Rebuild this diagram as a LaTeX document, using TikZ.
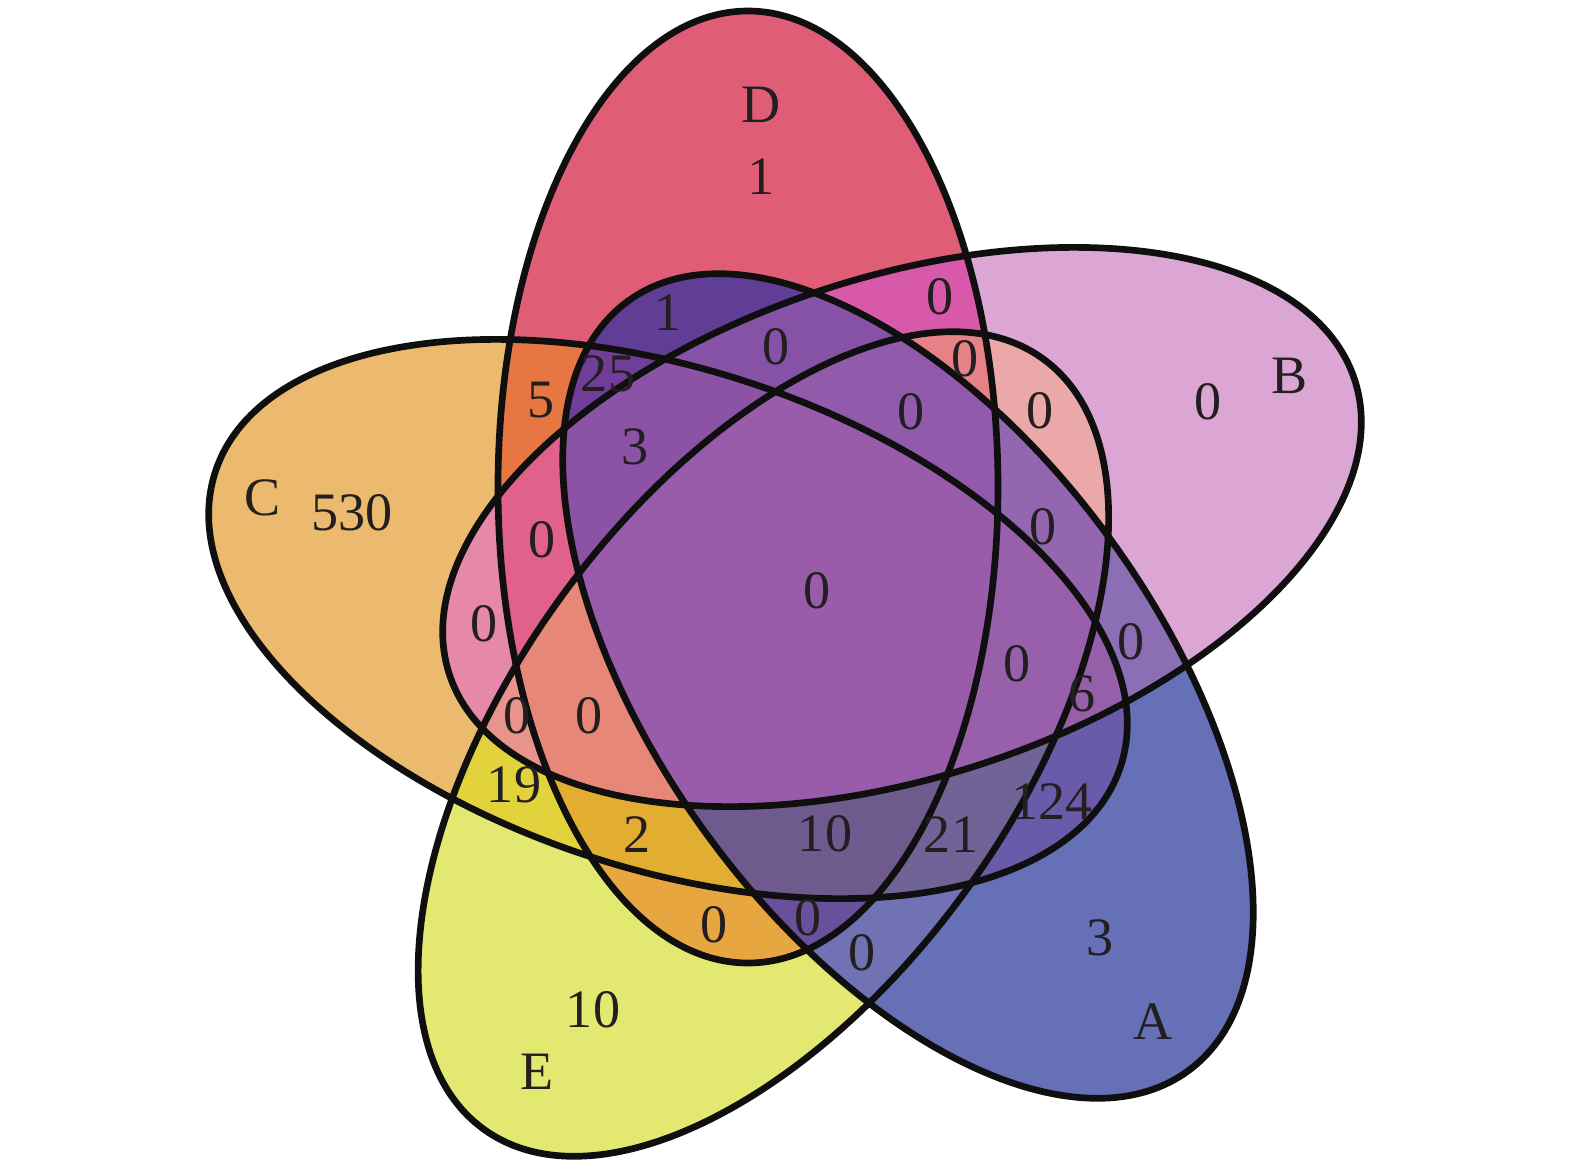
\documentclass[tikz,border=0pt]{standalone}
\usepackage{fontspec}
\setmainfont{Liberation Serif}
\usepackage{xcolor}

% single sets
\definecolor{cA}{RGB}{102,112,182}
\definecolor{cB}{RGB}{219,166,212}
\definecolor{cC}{RGB}{236,186,110}
\definecolor{cD}{RGB}{224,94,117}
\definecolor{cE}{RGB}{226,232,112}
% two sets
\definecolor{cAB}{RGB}{140,110,180}
\definecolor{cAC}{RGB}{106,90,170}
\definecolor{cAD}{RGB}{96,62,150}
\definecolor{cAE}{RGB}{112,114,180}
\definecolor{cBC}{RGB}{230,136,168}
\definecolor{cBD}{RGB}{216,88,170}
\definecolor{cBE}{RGB}{234,168,168}
\definecolor{cCD}{RGB}{230,118,66}
\definecolor{cCE}{RGB}{226,210,60}
\definecolor{cDE}{RGB}{232,166,64}
% three sets
\definecolor{cABC}{RGB}{150,95,170}
\definecolor{cABD}{RGB}{133,82,165}
\definecolor{cABE}{RGB}{148,102,175}
\definecolor{cACD}{RGB}{112,62,152}
\definecolor{cACE}{RGB}{112,100,150}
\definecolor{cADE}{RGB}{105,80,155}
\definecolor{cBCD}{RGB}{224,98,138}
\definecolor{cBCE}{RGB}{232,148,140}
\definecolor{cBDE}{RGB}{230,130,135}
\definecolor{cCDE}{RGB}{226,174,50}
% four and five sets
\definecolor{cABCD}{RGB}{140,82,165}
\definecolor{cABCE}{RGB}{152,95,170}
\definecolor{cABDE}{RGB}{145,90,170}
\definecolor{cACDE}{RGB}{110,90,140}
\definecolor{cBCDE}{RGB}{230,135,120}
\definecolor{cABCDE}{RGB}{153,92,170}
\definecolor{ink}{RGB}{35,31,32}
\definecolor{rim}{RGB}{15,15,15}

\begin{document}
\begin{tikzpicture}[
line width=1.9pt,
every node/.style={font=\fontsize{15.4}{18}\selectfont, text=ink},
setA/.style={shift={(9.08,-6.86)}, rotate=-54},
setB/.style={shift={(9.02,-5.27)}, rotate=18},
setC/.style={shift={(6.68,-6.19)}, rotate=162},
setD/.style={shift={(7.48,-4.87)}, rotate=90},
setE/.style={shift={(7.634,-7.44)}, rotate=-126},
]
\useasboundingbox (0,0) rectangle (15.75,-11.65);

% fills, one set
\foreach \p in {A,B,C,D,E}
  \fill[set\p, fill=c\p] (0,0) ellipse (4.76 and 2.5);
% fills, two sets
\foreach \p/\q in {A/B,A/C,A/D,A/E,B/C,B/D,B/E,C/D,C/E,D/E} {
  \begin{scope}
    \clip[set\p] (0,0) ellipse (4.76 and 2.5);
    \fill[set\q, fill=c\p\q] (0,0) ellipse (4.76 and 2.5);
  \end{scope}
}
% fills, three sets
\foreach \p/\q/\r in {A/B/C,A/B/D,A/B/E,A/C/D,A/C/E,A/D/E,B/C/D,B/C/E,B/D/E,C/D/E} {
  \begin{scope}
    \clip[set\p] (0,0) ellipse (4.76 and 2.5);
    \clip[set\q] (0,0) ellipse (4.76 and 2.5);
    \fill[set\r, fill=c\p\q\r] (0,0) ellipse (4.76 and 2.5);
  \end{scope}
}
% fills, four and five sets
\foreach \p/\q/\r/\u in {A/B/C/D,A/B/C/E,A/B/D/E,A/C/D/E,B/C/D/E} {
  \begin{scope}
    \clip[set\p] (0,0) ellipse (4.76 and 2.5);
    \clip[set\q] (0,0) ellipse (4.76 and 2.5);
    \clip[set\r] (0,0) ellipse (4.76 and 2.5);
    \fill[set\u, fill=c\p\q\r\u] (0,0) ellipse (4.76 and 2.5);
  \end{scope}
}
\begin{scope}
  \clip[setA] (0,0) ellipse (4.76 and 2.5);
  \clip[setB] (0,0) ellipse (4.76 and 2.5);
  \clip[setC] (0,0) ellipse (4.76 and 2.5);
  \clip[setD] (0,0) ellipse (4.76 and 2.5);
  \fill[setE, fill=cABCDE] (0,0) ellipse (4.76 and 2.5);
\end{scope}

% outlines
\foreach \p in {A,B,C,D,E}
  \draw[set\p, draw=rim] (0,0) ellipse (4.76 and 2.5);

% set names
\node (labD) at (7.61,-1.05) {D};
\node (labB) at (12.90,-3.76) {B};
\node (labC) at (2.63,-4.98) {C};
\node (labA) at (11.53,-10.22) {A};
\node (labE) at (5.37,-10.72) {E};

% counts
\foreach \n/\x/\y/\v in {
  D/7.61/-1.77/1, B/12.08/-4.02/0, C/3.52/-5.13/530, A/11.00/-9.38/3, E/5.93/-10.10/10,
  BD/9.40/-2.97/0, AD/6.68/-3.13/1, ABD/7.76/-3.47/0, BDE/9.65/-3.59/0,
  CD/5.41/-4.00/5, ACD/6.08/-3.74/25, BE/10.40/-4.11/0, ABDE/9.11/-4.12/0,
  ABCD/6.35/-4.47/3, BCD/5.42/-5.40/0, ABE/10.43/-5.27/0, ABCDE/8.17/-5.91/0,
  BC/4.84/-6.24/0, AB/11.31/-6.42/0, ABCE/10.17/-6.64/0, ABC/10.82/-6.94/6,
  BCE/5.17/-7.16/0, BCDE/5.89/-7.16/0, CE/5.14/-7.85/19, AC/10.52/-8.02/124,
  CDE/6.37/-8.35/2, ACDE/8.25/-8.34/10, ACE/9.51/-8.35/21,
  DE/7.14/-9.25/0, ADE/8.08/-9.18/0, AE/8.62/-9.53/0}
  \node (n\n) at (\x,\y) {\v};
\end{tikzpicture}
\end{document}
